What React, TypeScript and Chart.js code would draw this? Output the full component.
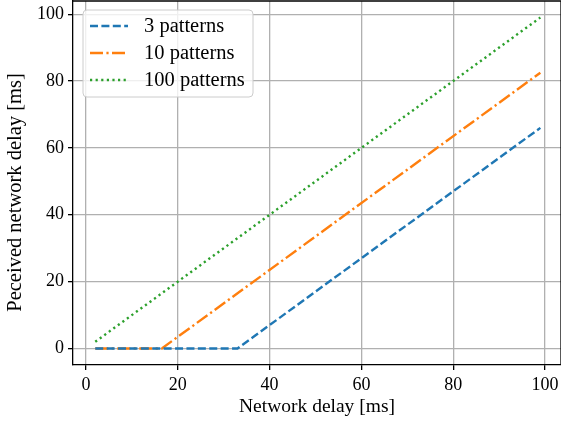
import React, { useEffect, useRef } from "react";
import { Chart, registerables } from "chart.js";

Chart.register(...registerables);

const seriesLabels = ["3 patterns", "10 patterns", "100 patterns"];
const x3 = [2, 33, 99];
const y3 = [0, 0, 66];
const x10 = [2, 16.5, 99];
const y10 = [0, 0, 82.5];
const x100 = [2, 99];
const y100 = [2, 99];
const xTicks = [0, 20, 40, 60, 80, 100];
const yTicks = [0, 20, 40, 60, 80, 100];
const xTitle = "Network delay [ms]";
const yTitle = "Peceived network delay [ms]";

const colors = ["#1f77b4", "#ff7f0e", "#2ca02c"];
const dashes = [[8, 3.4], [13, 3.4, 2.2, 3.4], [2.2, 3.4]];
const FONT = "'Liberation Serif', 'Times New Roman', serif";

const toPts = (xs: number[], ys: number[]) => xs.map((x, i) => ({ x, y: ys[i] }));

const framePlugin = {
  id: "frameLegend",
  afterDraw(chart: any) {
    const { ctx, chartArea } = chart;
    ctx.save();
    ctx.strokeStyle = "#000";
    ctx.lineWidth = 1.3;
    ctx.beginPath();
    ctx.moveTo(chartArea.left, chartArea.top);
    ctx.lineTo(chartArea.right, chartArea.top);
    ctx.lineTo(chartArea.right, chartArea.bottom);
    ctx.stroke();

    // y axis title
    ctx.save();
    ctx.translate(15.5, 192.5);
    ctx.rotate(-Math.PI / 2);
    ctx.fillStyle = "#000";
    ctx.font = `20.5px ${FONT}`;
    ctx.textAlign = "center";
    ctx.textBaseline = "middle";
    ctx.fillText(yTitle, 0, 0);
    ctx.restore();

    // legend
    const lx = 83, ly = 10, lw = 170, lh = 87, r = 4;
    ctx.beginPath();
    ctx.moveTo(lx + r, ly);
    ctx.lineTo(lx + lw - r, ly);
    ctx.arcTo(lx + lw, ly, lx + lw, ly + r, r);
    ctx.lineTo(lx + lw, ly + lh - r);
    ctx.arcTo(lx + lw, ly + lh, lx + lw - r, ly + lh, r);
    ctx.lineTo(lx + r, ly + lh);
    ctx.arcTo(lx, ly + lh, lx, ly + lh - r, r);
    ctx.lineTo(lx, ly + r);
    ctx.arcTo(lx, ly, lx + r, ly, r);
    ctx.closePath();
    ctx.fillStyle = "rgba(255,255,255,0.8)";
    ctx.fill();
    ctx.strokeStyle = "#cccccc";
    ctx.lineWidth = 1;
    ctx.stroke();

    chart.data.datasets.forEach((ds: any, i: number) => {
      const y = 26 + i * 27;
      ctx.beginPath();
      ctx.setLineDash(ds.borderDash);
      ctx.strokeStyle = ds.borderColor;
      ctx.lineWidth = ds.borderWidth;
      ctx.moveTo(90, y);
      ctx.lineTo(128, y);
      ctx.stroke();
      ctx.setLineDash([]);
      ctx.fillStyle = "#000";
      ctx.font = `20.5px ${FONT}`;
      ctx.textBaseline = "middle";
      ctx.textAlign = "left";
      ctx.fillText(ds.label, 144, y + 1);
    });
    ctx.restore();
  },
};

export default function App() {
  const ref = useRef<HTMLCanvasElement>(null);
  useEffect(() => {
    document.body.style.margin = "0";
    const xs = [x3, x10, x100];
    const ys = [y3, y10, y100];
    const chart = new Chart(ref.current!, {
      type: "line",
      data: {
        datasets: seriesLabels.map((label, i) => ({
          label,
          data: toPts(xs[i], ys[i]),
          borderColor: colors[i],
          backgroundColor: colors[i],
          borderWidth: 2.4,
          borderDash: dashes[i],
          pointRadius: 0,
          tension: 0,
          fill: false,
        })),
      },
      options: {
        animation: false,
        responsive: false,
        layout: { padding: { top: 1, right: 0, left: 0, bottom: 0 } },
        plugins: { legend: { display: false }, tooltip: { enabled: false } },
        scales: {
          x: {
            type: "linear",
            min: -2.85,
            max: 103.5,
            afterBuildTicks: (s: any) => {
              s.ticks = xTicks.map((v) => ({ value: v }));
            },
            afterFit: (s: any) => {
              s.height = 57;
              s.paddingLeft = 0;
              s.paddingRight = 0;
            },
            grid: { color: "#b0b0b0", lineWidth: 1.3, tickColor: "#000", tickLength: 5 },
            border: { color: "#000", width: 1.3 },
            ticks: { color: "#000", font: { family: FONT, size: 18 }, padding: 4, maxRotation: 0 },
            title: {
              display: true,
              text: xTitle,
              color: "#000",
              font: { family: FONT, size: 19.5 },
              padding: { top: 0, bottom: 3 },
            },
          },
          y: {
            type: "linear",
            min: -4.95,
            max: 103.95,
            afterBuildTicks: (s: any) => {
              s.ticks = yTicks.map((v) => ({ value: v }));
            },
            afterFit: (s: any) => {
              s.width = 73;
              s.paddingTop = 0;
              s.paddingBottom = 0;
            },
            grid: { color: "#b0b0b0", lineWidth: 1.3, tickColor: "#000", tickLength: 5 },
            border: { color: "#000", width: 1.3 },
            ticks: { color: "#000", font: { family: FONT, size: 18 }, padding: 4 },
            title: { display: false, text: yTitle },
          },
        },
      },
      plugins: [framePlugin],
    } as any);
    return () => chart.destroy();
  }, []);
  return (
    <div style={{ position: "absolute", left: 0, top: 0, width: 561, height: 422 }}>
      <canvas ref={ref} width={561} height={422} style={{ width: 561, height: 422 }} />
    </div>
  );
}
